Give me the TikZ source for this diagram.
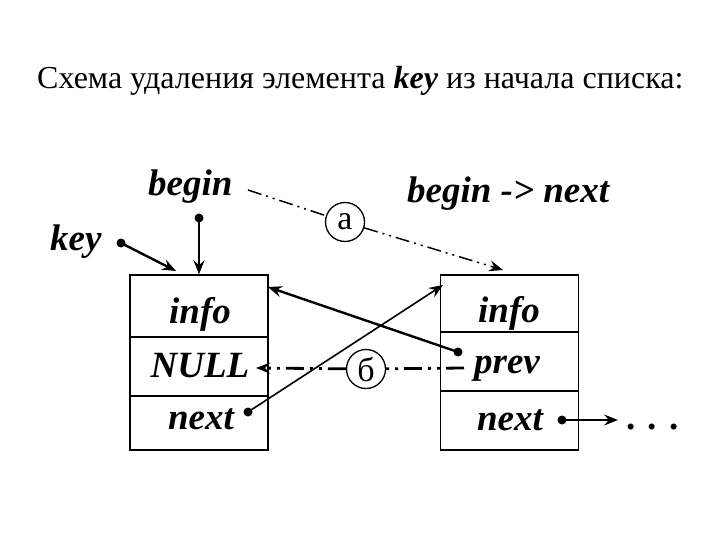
\documentclass[tikz,border=0pt]{standalone}
\usepackage{fontspec}
\setmainfont{Liberation Serif}
\usetikzlibrary{arrows.meta,positioning}

\begin{document}
\begin{tikzpicture}[x=1pt,y=-1pt,
    >={Stealth[length=14pt,width=11pt,inset=5pt]},
    cell/.style={draw, line width=1.4pt, minimum width=138pt, inner sep=0pt},
    lbl/.style={font=\fontsize{37}{40}\selectfont\bfseries\itshape, anchor=base, inner sep=0pt},
    dot/.style={circle, fill, inner sep=0pt, minimum size=9pt},
    tag/.style={circle, draw, line width=1.3pt, minimum size=39pt, inner sep=0pt,
      font=\fontsize{34}{36}\selectfont},
    ptr/.style={->, line width=2.4pt},
    thinptr/.style={->, line width=1.6pt},
    dashdot/.style={line width=1.5pt, dash pattern=on 14pt off 5pt on 2pt off 5pt on 2pt off 5pt},
    dashdotb/.style={line width=2.8pt, dash pattern=on 18pt off 6pt on 3pt off 6pt on 3pt off 6pt},
  ]
\useasboundingbox (0,0) rectangle (720,540);

% Title
\node[anchor=base west, inner sep=0pt, font=\fontsize{32}{34}\selectfont] (title) at (37,89)
  {Схема удаления элемента \textbf{\textit{key}} из начала списка:};

% Removed element
\node[cell, minimum height=62pt] (lInfo) at (199,306) {};
\node[cell, minimum height=59pt] (lNull) at (199,366.5) {};
\node[cell, minimum height=54pt] (lNext) at (199,423) {};
\node[lbl] (tInfoL) at (200,323) {info};
\node[lbl] (tNull) at (200,377) {NULL};
\node[lbl] (tNextL) at (201,429) {next};

% Next element
\node[cell, minimum height=57pt] (rInfo) at (509.5,303.5) {};
\node[cell, minimum height=59pt] (rPrev) at (509.5,361.5) {};
\node[cell, minimum height=59pt] (rNext) at (509.5,420.5) {};
\node[lbl] (tInfoR) at (509,322) {info};
\node[lbl] (tPrev) at (507,373) {prev};
\node[lbl] (tNextR) at (510,430) {next};

% Pointer labels
\node[lbl, anchor=base west] (begin) at (148,196) {begin};
\node[lbl, anchor=base west] (beginNext) at (407,203) {begin -> next};
\node[lbl, anchor=base west] (key) at (50,251) {key};

% Pointer dots
\node[dot] (bDot) at (199,218) {};
\node[dot] (kDot) at (121,243) {};
\node[dot] (pDot) at (458,352) {};
\node[dot] (nDotL) at (248,412) {};
\node[dot] (nDotR) at (562,420) {};

% Free ends
\coordinate (kEnd) at (176,271);
\coordinate (pEnd) at (268,287);
\coordinate (nEndL) at (443,285);
\coordinate (nEndR) at (618,420);
\coordinate (aStart) at (248,190);
\coordinate (aEnd) at (503,270);
\coordinate (bStart) at (464,368);
\coordinate (bEnd) at (256,368);

% Step markers
\node[tag] (stepA) at (345,222) {а};
\node[tag] (stepB) at (366,369) {б};

% Continuation
\node[anchor=base west, inner sep=0pt, font=\fontsize{37}{40}\selectfont\bfseries] (more) at (626,429) {. . .};

% Links
\draw[ptr] (bDot.center) -- (lInfo.north);
\draw[ptr] (kDot.center) -- (kEnd);
\draw[ptr] (pDot.center) -- (pEnd);
\draw[thinptr] (nDotL.center) -- (nEndL);
\draw[thinptr] (nDotR.center) -- (nEndR);

% Steps
\draw[dashdot, ->] (aStart) -- (stepA) -- (aEnd);
\draw[dashdotb, ->] (bStart) -- (stepB) -- (bEnd);

\end{tikzpicture}
\end{document}
